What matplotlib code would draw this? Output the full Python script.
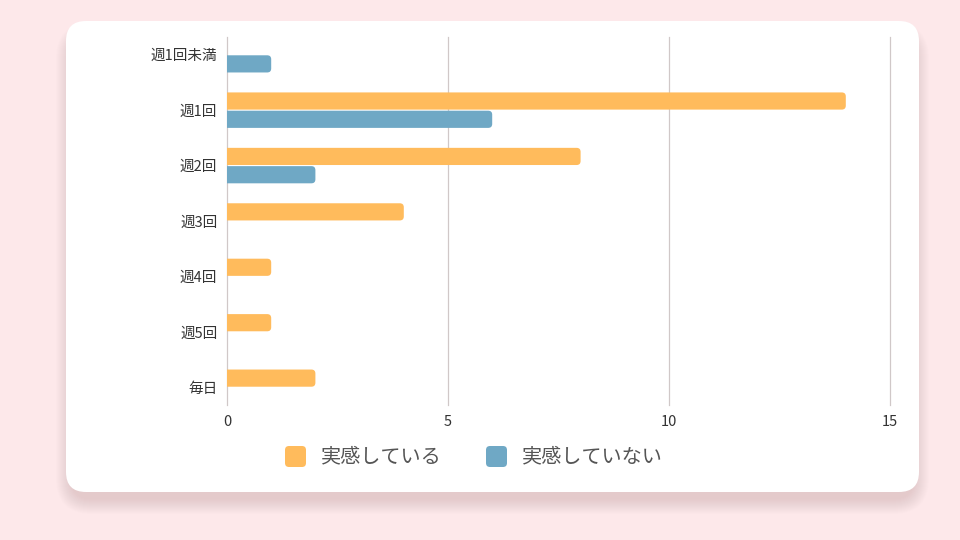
import numpy as np
import matplotlib.pyplot as plt
from matplotlib.patches import FancyBboxPatch

plt.rcParams['font.family'] = ['Noto Sans CJK JP', 'DejaVu Sans']

# Data
categories = ['週1回未満', '週1回', '週2回', '週3回', '週4回', '週5回', '毎日']
series_names = ['実感している', '実感していない']
jikkan_ari = [0, 14, 8, 4, 1, 1, 2]
jikkan_nashi = [1, 6, 2, 0, 0, 0, 0]
x_ticks = [0, 5, 10, 15]

colors = ['#FFBB5C', '#6FA8C5']
bg = '#FDE8EA'

W, H = 960, 540
fig = plt.figure(figsize=(W / 100, H / 100), dpi=100, facecolor=bg)

# card shadow + card (figure pixel coords)
def fig_box(x0, y0, w, h, r, z=1, **kw):
    p = FancyBboxPatch((x0 / W, 1 - (y0 + h) / H), w / W, h / H,
                       boxstyle=f"round,pad=0,rounding_size={r / W}",
                       mutation_aspect=W / H, transform=fig.transFigure,
                       zorder=z, **kw)
    fig.patches.append(p)

for i in range(16):
    s = 16 - i
    fig_box(66 - s + 6, 21 - s + 18, 853 + 2 * s - 12, 471 + 2 * s - 12, 20 + s,
            facecolor='#b89a9a', edgecolor='none', alpha=0.02)
fig_box(66, 21, 853, 471, 20, facecolor='white', edgecolor='none')

ax = fig.add_axes([227 / W, 1 - 405 / H, (890 - 227) / W, (405 - 37) / H])
ax.set_facecolor('none')
ax.set_zorder(3)

y = np.arange(len(categories))
bh = 0.31
off = 0.165
xscale = 44.2   # px per x unit
yscale = 55.5   # px per category
r = 4 / xscale
aspect = xscale / yscale

for vals, c, o in [(jikkan_ari, colors[0], -off), (jikkan_nashi, colors[1], off)]:
    for yi, v in zip(y, vals):
        if v <= 0:
            continue
        p = FancyBboxPatch((-0.3, yi + o - bh / 2), v + 0.3, bh,
                           boxstyle=f"round,pad=0,rounding_size={r}",
                           mutation_aspect=aspect, facecolor=c, edgecolor='none',
                           zorder=3, clip_on=True)
        ax.add_patch(p)

ax.set_xlim(0, 15)
ax.set_ylim(6.32, -0.32)
ax.set_xticks(x_ticks)
ax.set_yticks(y)
ax.set_yticklabels(categories, fontsize=10.5, color='#333333')
ax.tick_params(axis='x', labelsize=10.5, colors='#333333', length=0, pad=7)
ax.tick_params(axis='y', length=0, pad=7)
ax.grid(axis='x', color='#d0c8c8', linewidth=0.9, zorder=0)
for gl in ax.get_xgridlines():
    gl.set_clip_on(False)
for s in ax.spines.values():
    s.set_visible(False)

# legend
for name, c, sx in [(series_names[0], colors[0], 285), (series_names[1], colors[1], 486)]:
    fig_box(sx, 446, 21, 21, 4, z=4, facecolor=c, edgecolor='none')
    fig.text((sx + 36) / W, 1 - 457 / H, name, fontsize=14.5, color='#555555',
             va='center', ha='left', zorder=5)

fig.savefig('out.png', dpi=100, facecolor=bg)
